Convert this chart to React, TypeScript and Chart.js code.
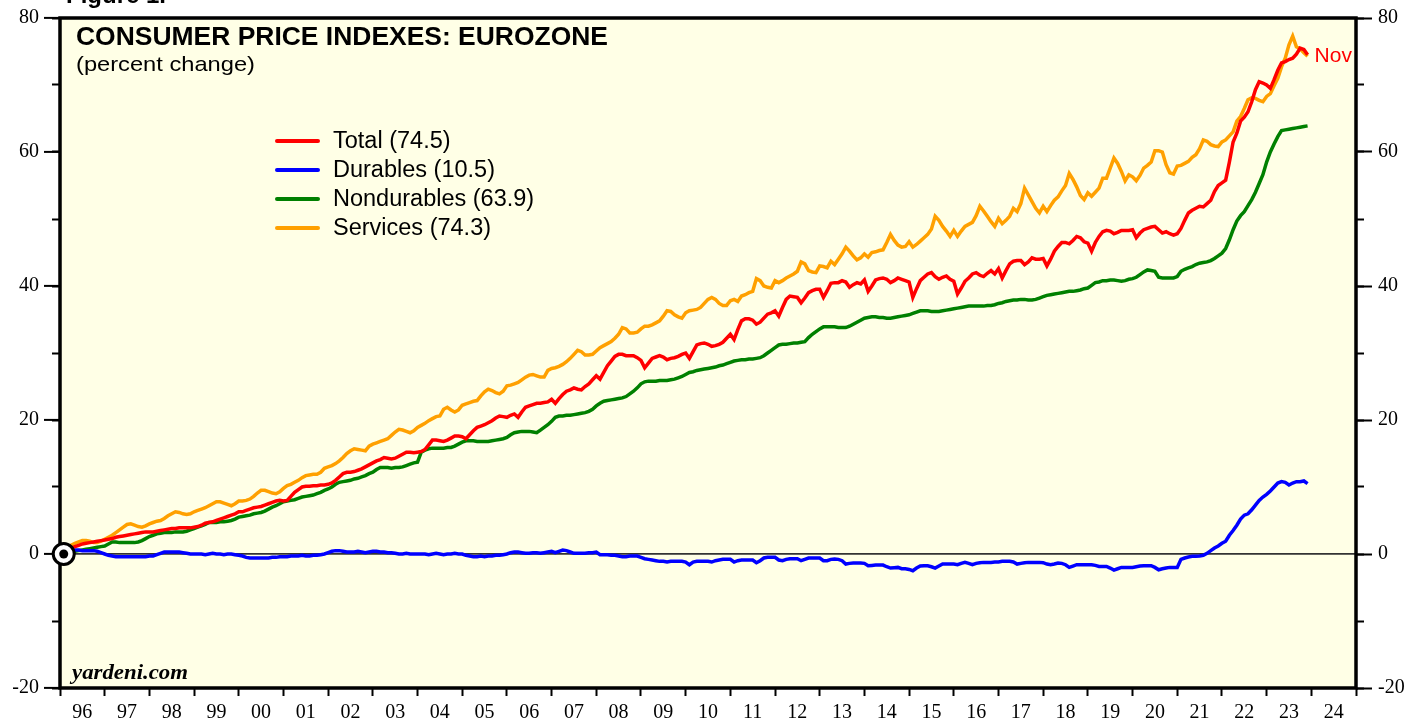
import React, { useEffect, useRef } from 'react';
import { Chart, registerables } from 'chart.js';

Chart.register(...registerables);

// ---------- DATA ----------
const YEAR_LABELS = ['96', '97', '98', '99', '00', '01', '02', '03', '04', '05', '06', '07', '08', '09',
  '10', '11', '12', '13', '14', '15', '16', '17', '18', '19', '20', '21', '22', '23', '24'];

const SERIES_NAMES = ['Total', 'Durables', 'Nondurables', 'Services'];
const LAST_MONTH_LABEL = 'Nov';

// Monthly, Jan 1996 .. Nov 2023 (percent change since Jan 1996)
const TOTAL = [
  0, 0.5, 0.9, 1.1, 1.3, 1.5, 1.6, 1.7, 1.8, 1.9, 2.0, 2.1,
  2.2, 2.3, 2.5, 2.6, 2.7, 2.8, 2.9, 3.0, 3.1, 3.2, 3.3, 3.3,
  3.3, 3.4, 3.5, 3.6, 3.7, 3.8, 3.8, 3.9, 3.9, 3.9, 3.9, 4.0,
  4.1, 4.3, 4.6, 4.7, 4.8, 5.0, 5.2, 5.4, 5.6, 5.8, 6.0, 6.3,
  6.3, 6.5, 6.7, 6.9, 7.0, 7.1, 7.3, 7.5, 7.7, 7.9, 8.0, 7.9,
  8.0, 8.6, 9.2, 9.6, 10.0, 10.1, 10.1, 10.2, 10.2, 10.3, 10.3, 10.4,
  10.6, 11.0, 11.5, 12.0, 12.2, 12.2, 12.3, 12.5, 12.7, 13.0, 13.3, 13.6,
  13.9, 14.1, 14.4, 14.3, 14.2, 14.3, 14.6, 14.9, 15.2, 15.2, 15.1, 15.2,
  15.3, 15.6, 16.3, 17.0, 17.0, 16.9, 16.8, 17.0, 17.3, 17.6, 17.6, 17.5,
  17.2, 17.8, 18.4, 18.9, 19.1, 19.3, 19.6, 19.9, 20.3, 20.6, 20.5, 20.4,
  20.7, 20.9, 20.4, 21.2, 21.9, 22.1, 22.3, 22.5, 22.5, 22.6, 22.7, 23.1,
  22.5, 23.2, 23.8, 24.3, 24.5, 24.8, 24.6, 24.5, 25.0, 25.4, 26.0, 26.6,
  26.1, 27.1, 28.1, 28.8, 29.5, 29.8, 29.8, 29.6, 29.6, 29.6, 29.3, 28.9,
  27.8, 28.5, 29.2, 29.4, 29.6, 29.4, 29.0, 29.2, 29.3, 29.5, 29.8, 30.0,
  29.2, 30.2, 31.2, 31.4, 31.5, 31.3, 31.0, 31.1, 31.3, 31.6, 32.2, 32.8,
  32.0, 33.5, 34.8, 35.1, 35.1, 34.9, 34.3, 34.6, 35.2, 35.8, 36.0, 36.3,
  35.5, 36.8, 38.0, 38.5, 38.4, 38.3, 37.5, 38.2, 39.0, 39.3, 39.5, 39.5,
  38.3, 39.3, 40.4, 40.5, 40.5, 40.8, 40.6, 39.8, 40.2, 40.5, 40.3, 40.9,
  39.2, 40.0, 40.9, 41.1, 41.2, 41.0, 40.5, 40.8, 41.2, 41.0, 40.8, 40.6,
  38.3, 39.6, 40.8, 41.3, 41.8, 42.0, 41.4, 41.0, 41.3, 41.5, 41.0, 40.7,
  38.8, 39.7, 40.7, 41.2, 41.8, 42.0, 41.6, 41.4, 41.9, 42.3, 41.8, 42.6,
  41.2, 42.3, 43.3, 43.7, 43.8, 43.8, 43.2, 43.6, 44.2, 44.0, 44.0, 44.1,
  43.0, 44.0, 45.2, 45.9, 46.5, 46.5, 46.3, 46.8, 47.4, 47.2, 46.6, 46.4,
  45.2, 46.5, 47.4, 48.1, 48.3, 48.2, 47.8, 48.0, 48.3, 48.3, 48.3, 48.4,
  47.2, 47.9, 48.4, 48.6, 48.8, 48.9, 48.4, 47.9, 48.1, 47.8, 47.6, 47.8,
  48.6, 49.8, 50.9, 51.3, 51.6, 51.9, 51.8, 52.3, 52.8, 54.1, 55.0, 55.4,
  55.8, 58.5, 61.5, 62.8, 64.6, 65.2, 66.0, 67.5, 69.3, 70.5, 70.3, 70.0,
  69.5, 70.8, 72.2, 73.3, 73.5, 73.8, 74.0, 74.6, 75.5, 75.3, 74.5,
];

const DURABLES = [
  0, 0.3, 0.5, 0.6, 0.6, 0.5, 0.5, 0.5, 0.5, 0.4, 0.2, 0.0,
  -0.2, -0.3, -0.4, -0.4, -0.4, -0.4, -0.4, -0.4, -0.4, -0.4, -0.4, -0.3,
  -0.3, -0.1, 0.1, 0.3, 0.3, 0.3, 0.3, 0.3, 0.2, 0.1, 0.0, 0.0,
  0.0, 0.0, -0.1, 0.0, 0.1, 0.0, 0.0, -0.1, 0.0, 0.0, -0.1, -0.2,
  -0.3, -0.5, -0.6, -0.6, -0.6, -0.6, -0.6, -0.6, -0.5, -0.5, -0.4, -0.4,
  -0.4, -0.3, -0.3, -0.3, -0.2, -0.3, -0.3, -0.2, -0.2, -0.1, 0.0, 0.2,
  0.4, 0.5, 0.5, 0.4, 0.3, 0.3, 0.3, 0.4, 0.3, 0.2, 0.3, 0.4,
  0.4, 0.3, 0.3, 0.2, 0.2, 0.1, 0.0, 0.0, 0.1, 0.0, 0.0, 0.0,
  0.0, 0.0, -0.1, 0.0, 0.1, 0.0, -0.1, 0.0, 0.0, 0.1, 0.0, 0.0,
  -0.2, -0.3, -0.4, -0.4, -0.3, -0.4, -0.3, -0.3, -0.2, -0.2, -0.1, 0.0,
  0.2, 0.3, 0.3, 0.2, 0.1, 0.1, 0.2, 0.2, 0.1, 0.2, 0.3, 0.4,
  0.2, 0.4, 0.6, 0.5, 0.3, 0.1, 0.1, 0.1, 0.1, 0.2, 0.2, 0.3,
  -0.1, -0.1, -0.1, -0.2, -0.2, -0.3, -0.4, -0.4, -0.3, -0.3, -0.3, -0.5,
  -0.7, -0.8, -0.9, -1.0, -1.1, -1.1, -1.2, -1.1, -1.1, -1.1, -1.1, -1.2,
  -1.6, -1.2, -1.1, -1.1, -1.1, -1.1, -1.2, -1.0, -0.9, -0.8, -0.8, -0.8,
  -1.2, -1.0, -0.9, -0.9, -0.9, -0.9, -1.3, -1.0, -0.6, -0.5, -0.5, -0.5,
  -0.9, -1.0, -0.8, -0.7, -0.7, -0.7, -1.0, -0.8, -0.6, -0.6, -0.6, -0.6,
  -1.0, -1.0, -0.8, -0.75, -0.8, -1.0, -1.5, -1.4, -1.35, -1.35, -1.35, -1.4,
  -1.75, -1.7, -1.65, -1.65, -1.65, -1.9, -2.1, -2.05, -2.0, -2.2, -2.2, -2.3,
  -2.5, -2.1, -1.8, -1.75, -1.75, -1.9, -2.1, -1.8, -1.5, -1.5, -1.5, -1.5,
  -1.6, -1.4, -1.25, -1.4, -1.6, -1.4, -1.3, -1.25, -1.25, -1.25, -1.2, -1.2,
  -1.1, -1.1, -1.1, -1.2, -1.5, -1.4, -1.3, -1.25, -1.25, -1.25, -1.25, -1.3,
  -1.5, -1.6, -1.5, -1.35, -1.4, -1.6, -2.0, -1.8, -1.6, -1.6, -1.6, -1.6,
  -1.6, -1.7, -1.85, -1.85, -1.85, -2.1, -2.4, -2.2, -2.0, -2.0, -2.0, -2.0,
  -1.9, -1.8, -1.75, -1.75, -1.75, -2.0, -2.35, -2.2, -2.1, -2.0, -2.0, -2.0,
  -0.8, -0.6, -0.45, -0.35, -0.35, -0.3, -0.2, 0.1, 0.5, 0.9, 1.2, 1.6,
  1.9, 2.8, 3.5, 4.3, 5.2, 5.8, 6.0, 6.6, 7.3, 8.0, 8.5, 8.9,
  9.4, 10.0, 10.6, 10.8, 10.7, 10.3, 10.6, 10.8, 10.8, 10.9, 10.5,
];

const NONDURABLES = [
  0, 0.1, 0.2, 0.4, 0.5, 0.6, 0.7, 0.8, 0.9, 1.0, 1.1, 1.2,
  1.5, 1.8, 1.8, 1.7, 1.7, 1.7, 1.7, 1.7, 1.8, 2.0, 2.3, 2.6,
  2.8, 3.0, 3.1, 3.2, 3.2, 3.2, 3.3, 3.3, 3.3, 3.4, 3.6, 3.8,
  4.0, 4.2, 4.4, 4.7, 4.7, 4.7, 4.8, 4.8, 4.9, 5.0, 5.2, 5.5,
  5.6, 5.7, 5.8, 6.0, 6.1, 6.2, 6.4, 6.7, 7.0, 7.2, 7.5, 7.8,
  7.9, 8.0, 8.1, 8.3, 8.5, 8.6, 8.7, 8.8, 9.0, 9.2, 9.5, 9.7,
  10.0, 10.4, 10.7, 10.8, 10.9, 11.0, 11.2, 11.3, 11.5, 11.7, 12.0, 12.2,
  12.6, 12.9, 12.9, 12.9, 12.8, 12.9, 12.9, 13.0, 13.2, 13.4, 13.6, 13.7,
  15.2, 15.5, 15.7, 15.8, 15.8, 15.8, 15.8, 15.9, 15.9, 16.1, 16.4, 16.7,
  16.9, 16.9, 16.9, 16.8, 16.8, 16.8, 16.8, 16.9, 17.0, 17.1, 17.2, 17.4,
  17.8, 18.1, 18.2, 18.3, 18.3, 18.3, 18.2, 18.1, 18.5, 18.9, 19.3, 19.8,
  20.4, 20.6, 20.6, 20.7, 20.7, 20.8, 20.9, 21.0, 21.1, 21.3, 21.6, 22.1,
  22.5, 22.8, 22.9, 23.0, 23.1, 23.2, 23.3, 23.5, 23.9, 24.3, 24.8, 25.4,
  25.7, 25.8, 25.8, 25.8, 25.9, 25.9, 25.9, 26.0, 26.1, 26.3, 26.5, 26.8,
  27.1, 27.2, 27.4, 27.5, 27.6, 27.7, 27.8, 27.9, 28.1, 28.2, 28.4, 28.6,
  28.8, 28.9, 29.0, 29.0, 29.1, 29.1, 29.2, 29.3, 29.6, 30.0, 30.4, 30.8,
  31.2, 31.3, 31.3, 31.4, 31.5, 31.5, 31.6, 31.7, 32.3, 32.8, 33.2, 33.6,
  33.9, 33.9, 33.9, 33.9, 33.8, 33.8, 33.8, 34.0, 34.3, 34.6, 34.9, 35.2,
  35.3, 35.4, 35.4, 35.3, 35.3, 35.2, 35.2, 35.3, 35.4, 35.5, 35.6, 35.7,
  35.9, 36.1, 36.3, 36.3, 36.3, 36.2, 36.2, 36.2, 36.3, 36.4, 36.5, 36.6,
  36.7, 36.8, 36.9, 37.0, 37.0, 37.0, 37.0, 37.0, 37.1, 37.1, 37.2, 37.4,
  37.5, 37.7, 37.8, 37.9, 37.9, 38.0, 38.0, 37.9, 37.9, 38.0, 38.2, 38.4,
  38.6, 38.7, 38.8, 38.9, 39.0, 39.1, 39.2, 39.2, 39.3, 39.4, 39.6, 39.7,
  40.1, 40.5, 40.6, 40.8, 40.8, 40.9, 40.9, 40.8, 40.7, 40.8, 41.0, 41.1,
  41.3, 41.7, 42.1, 42.4, 42.3, 42.2, 41.3, 41.2, 41.2, 41.2, 41.2, 41.4,
  42.2, 42.5, 42.7, 42.9, 43.2, 43.4, 43.5, 43.6, 43.8, 44.1, 44.5, 44.9,
  45.6, 46.9, 48.4, 49.7, 50.5, 51.1, 52.0, 52.9, 54.0, 55.3, 56.6, 58.5,
  60.0, 61.2, 62.3, 63.2, 63.3, 63.4, 63.5, 63.6, 63.7, 63.8, 63.9,
];

const SERVICES = [
  0, 0.8, 1.3, 1.6, 1.8, 2.0, 2.0, 1.9, 1.7, 1.7, 1.9, 2.2,
  2.5, 2.8, 3.2, 3.6, 4.0, 4.4, 4.5, 4.3, 4.1, 4.0, 4.2, 4.5,
  4.7, 4.9, 5.0, 5.3, 5.7, 6.0, 6.3, 6.2, 6.0, 5.9, 6.0, 6.3,
  6.5, 6.7, 6.9, 7.2, 7.5, 7.8, 7.8, 7.6, 7.4, 7.2, 7.5, 7.9,
  7.9, 8.0, 8.2, 8.6, 9.1, 9.5, 9.5, 9.3, 9.1, 9.0, 9.3, 9.8,
  10.2, 10.4, 10.7, 11.0, 11.4, 11.7, 11.8, 11.9, 11.9, 12.2, 12.8, 13.0,
  13.2, 13.5, 13.9, 14.4, 15.0, 15.4, 15.7, 15.6, 15.5, 15.4, 16.1, 16.4,
  16.6, 16.8, 17.0, 17.2, 17.7, 18.2, 18.6, 18.5, 18.3, 18.1, 18.4, 18.9,
  19.2, 19.5, 19.9, 20.2, 20.5, 20.6, 21.6, 21.9, 21.5, 21.2, 21.5, 22.2,
  22.4, 22.6, 22.8, 22.9, 23.6, 24.2, 24.6, 24.4, 24.1, 23.9, 24.3, 25.1,
  25.2, 25.4, 25.6, 26.0, 26.4, 26.7, 26.8, 26.6, 26.4, 26.4, 27.4, 27.7,
  27.8, 28.0, 28.3, 28.7, 29.2, 29.8, 30.4, 30.2, 29.7, 29.7, 29.8, 30.3,
  30.8, 31.1, 31.4, 31.7, 32.2, 32.8, 33.8, 33.6, 33.0, 33.0, 33.1, 33.6,
  34.0, 34.0, 34.2, 34.5, 34.8, 35.5, 36.3, 36.2, 35.7, 35.4, 35.2, 36.0,
  36.3, 36.4, 36.5, 36.8, 37.4, 38.0, 38.3, 38.0, 37.4, 37.1, 37.1, 37.8,
  38.0, 37.7, 38.5, 38.7, 39.0, 39.2, 41.1, 40.8, 40.0, 39.8, 39.7, 40.8,
  40.5, 40.8, 41.2, 41.5, 41.8, 42.2, 43.6, 43.3, 42.3, 42.1, 42.0, 43.0,
  42.9, 42.7, 43.7, 43.2, 44.0, 44.8, 45.8, 45.2, 44.5, 43.9, 44.2, 44.8,
  44.3, 45.0, 45.1, 45.3, 45.4, 46.5, 47.7, 46.8, 46.1, 45.8, 45.9, 46.6,
  45.8, 46.2, 46.7, 47.2, 47.7, 48.5, 50.4, 49.8, 48.9, 48.2, 47.4, 48.3,
  47.4, 48.2, 48.9, 49.2, 49.5, 50.5, 51.9, 51.2, 50.4, 49.6, 48.9, 50.1,
  49.3, 49.8, 50.4, 51.6, 51.1, 52.3, 54.6, 53.6, 52.6, 51.6, 50.9, 51.9,
  51.1, 52.0, 52.8, 53.3, 54.2, 55.0, 56.8, 55.9, 54.8, 53.5, 52.9, 53.9,
  53.4, 54.0, 54.6, 56.1, 56.1, 57.6, 59.1, 58.3, 57.1, 55.7, 56.6, 56.3,
  55.7, 56.5, 57.6, 58.0, 58.5, 60.2, 60.2, 60.0, 58.1, 56.9, 56.7, 57.9,
  58.0, 58.3, 58.6, 59.2, 59.6, 60.5, 61.8, 61.6, 61.1, 60.9, 60.8, 61.5,
  61.8, 62.4, 63.0, 64.6, 65.3, 66.5, 67.8, 68.1, 68.0, 67.7, 67.5, 68.3,
  68.7, 69.9, 71.0, 72.7, 74.0, 76.0, 77.3, 75.7, 75.4, 74.8, 74.3,
];

const SERIES_VALUES = [TOTAL, DURABLES, NONDURABLES, SERVICES];

// ---------- STYLE ----------
const SERIES_COLORS = ['#FF0000', '#0000FF', '#008000', '#FFA000'];
const PLOT_BG = '#FFFFE6';
const SERIF = "'Liberation Serif', 'Times New Roman', serif";
const SANS = "'Liberation Sans', Arial, Helvetica, sans-serif";
const MONTHS_SPAN = YEAR_LABELS.length * 12; // Jan 1996 .. Dec 2024

const toPoints = (arr: number[]) => arr.map((v, i) => ({ x: i + 1, y: v }));

function drawText(ctx: CanvasRenderingContext2D, text: string, x: number, y: number, font: string,
  color: string, targetWidth?: number, baseline: CanvasTextBaseline = 'alphabetic') {
  ctx.save();
  ctx.font = font;
  ctx.fillStyle = color;
  ctx.textAlign = 'left';
  ctx.textBaseline = baseline;
  const w = ctx.measureText(text).width;
  const sx = targetWidth ? targetWidth / w : 1;
  ctx.translate(x, y);
  ctx.scale(sx, 1);
  ctx.fillText(text, 0, 0);
  ctx.restore();
}

const decorPlugin = {
  id: 'decor',
  beforeDraw(chart: any) {
    const { ctx, chartArea: a } = chart;
    ctx.save();
    ctx.fillStyle = PLOT_BG;
    ctx.fillRect(a.left, a.top, a.right - a.left, a.bottom - a.top);
    ctx.restore();
  },
  beforeDatasetsDraw(chart: any) {
    const { ctx, chartArea: a } = chart;
    ctx.save();
    ctx.strokeStyle = '#000';
    ctx.lineWidth = 3.5;
    ctx.strokeRect(a.left, a.top, a.right - a.left, a.bottom - a.top);
    ctx.restore();
  },
  afterDraw(chart: any) {
    const { ctx } = chart;
    // clipped figure caption at the very top
    drawText(ctx, 'Figure 1.', 66, 3, `bold 24px ${SANS}`, '#000');
    // title
    drawText(ctx, 'CONSUMER PRICE INDEXES: EUROZONE', 76, 45, `bold 25px ${SANS}`, '#000', 532);
    drawText(ctx, '(percent change)', 76, 71, `21px ${SANS}`, '#000', 179);
    // legend
    const lineDs = chart.data.datasets.filter((d: any) => d.isSeries);
    lineDs.forEach((d: any, i: number) => {
      const y = 141 + i * 29;
      ctx.save();
      ctx.strokeStyle = d.borderColor;
      ctx.lineWidth = 4;
      ctx.lineCap = 'round';
      ctx.beginPath();
      ctx.moveTo(277, y);
      ctx.lineTo(318, y);
      ctx.stroke();
      ctx.restore();
      drawText(ctx, d.label, 333, y + 1, `23.5px ${SANS}`, '#000', undefined, 'middle');
    });
    // last-month label next to the end of Total
    const xs = chart.scales.x;
    const ys = chart.scales.y;
    const lastX = xs.getPixelForValue(TOTAL.length);
    const lastY = ys.getPixelForValue(TOTAL[TOTAL.length - 1]);
    drawText(ctx, LAST_MONTH_LABEL, lastX + 7, lastY + 1, `21px ${SANS}`, '#FF0000', undefined, 'middle');
    // source
    drawText(ctx, 'yardeni.com', 72, 679, `italic bold 22px ${SERIF}`, '#000', 116);
  },
};

export default function App() {
  const ref = useRef<HTMLCanvasElement | null>(null);

  useEffect(() => {
    if (!ref.current) return;
    const lineDatasets = SERIES_NAMES.map((name, i) => {
      const vals = SERIES_VALUES[i];
      return {
        type: 'line' as const,
        label: `${name} (${vals[vals.length - 1].toFixed(1)})`,
        data: toPoints(vals),
        borderColor: SERIES_COLORS[i],
        backgroundColor: SERIES_COLORS[i],
        borderWidth: 3.5,
        pointRadius: 0,
        tension: 0,
        fill: false,
        order: i + 1,
        isSeries: true,
        xAxisID: 'x',
        yAxisID: 'y',
      };
    });
    const markerOuter = {
      type: 'scatter' as const,
      label: 'origin',
      data: [{ x: 1, y: TOTAL[0] }],
      pointRadius: 10.5,
      pointBorderWidth: 3,
      pointBackgroundColor: '#FFFFFF',
      pointBorderColor: '#000000',
      clip: false,
      order: 0,
      xAxisID: 'x',
      yAxisID: 'y',
    };
    const markerInner = {
      type: 'scatter' as const,
      label: 'origin-dot',
      data: [{ x: 1, y: TOTAL[0] }],
      pointRadius: 4.5,
      pointBorderWidth: 0,
      pointBackgroundColor: '#000000',
      pointBorderColor: '#000000',
      clip: false,
      order: -1,
      xAxisID: 'x',
      yAxisID: 'y',
    };

    const tickFont = { family: SERIF, size: 20 };
    const yCommon = { type: 'linear' as const, min: -20, max: 80 };

    const chart = new Chart(ref.current, {
      type: 'line',
      data: { datasets: [markerInner, markerOuter, ...lineDatasets] as any },
      plugins: [decorPlugin],
      options: {
        animation: false,
        responsive: false,
        devicePixelRatio: 1,
        events: [],
        layout: { padding: { top: 15.5, left: 0, right: 0, bottom: 0 } },
        plugins: { legend: { display: false }, tooltip: { enabled: false } },
        scales: {
          x: {
            type: 'linear',
            position: 'bottom',
            min: 0,
            max: MONTHS_SPAN,
            afterBuildTicks: (s: any) => {
              const t = YEAR_LABELS.map((_, i) => ({ value: i * 12 }));
              t.push({ value: MONTHS_SPAN });
              s.ticks = t;
            },
            afterFit: (s: any) => { s.height = 31; s.paddingLeft = 0; s.paddingRight = 0; },
            ticks: {
              autoSkip: false,
              maxRotation: 0,
              minRotation: 0,
              labelOffset: 22.34,
              padding: 5,
              color: '#000',
              font: tickFont,
              callback: (v: any) => {
                const idx = Math.round(Number(v) / 12);
                return Number(v) < MONTHS_SPAN ? YEAR_LABELS[idx] : '';
              },
            },
            grid: { drawOnChartArea: false, drawTicks: true, tickLength: 8, tickColor: '#000', tickWidth: 2 },
            border: { display: false },
          },
          y: {
            ...yCommon,
            position: 'left',
            weight: 1,
            afterFit: (s: any) => { s.width = 60; },
            ticks: { stepSize: 20, padding: 5, color: '#000', font: tickFont },
            grid: {
              drawOnChartArea: true,
              color: (c: any) => (c.tick && c.tick.value === 0 ? '#333333' : 'rgba(0,0,0,0)'),
              lineWidth: 1.8,
              tickColor: '#000',
              tickWidth: 2,
              tickLength: 16,
            },
            border: { display: false },
          },
          yMinor: {
            ...yCommon,
            position: 'left',
            weight: 0,
            afterFit: (s: any) => { s.width = 0; },
            ticks: { stepSize: 10, display: false },
            grid: { drawOnChartArea: false, tickLength: 8, tickColor: '#000', tickWidth: 2 },
            border: { display: false },
          },
          yR: {
            ...yCommon,
            position: 'right',
            weight: 1,
            afterFit: (s: any) => { s.width = 70; },
            ticks: { stepSize: 20, padding: 6, color: '#000', font: tickFont },
            grid: { drawOnChartArea: false, tickColor: '#000', tickWidth: 2, tickLength: 16 },
            border: { display: false },
          },
          yRMinor: {
            ...yCommon,
            position: 'right',
            weight: 0,
            afterFit: (s: any) => { s.width = 0; },
            ticks: { stepSize: 10, display: false },
            grid: { drawOnChartArea: false, tickLength: 8, tickColor: '#000', tickWidth: 2 },
            border: { display: false },
          },
        } as any,
      },
    });
    return () => chart.destroy();
  }, []);

  return (
    <div style={{ position: 'absolute', left: 0, top: 0, width: 1426, height: 719, background: '#fff' }}>
      <canvas ref={ref} width={1426} height={719} style={{ display: 'block', width: 1426, height: 719 }} />
    </div>
  );
}
